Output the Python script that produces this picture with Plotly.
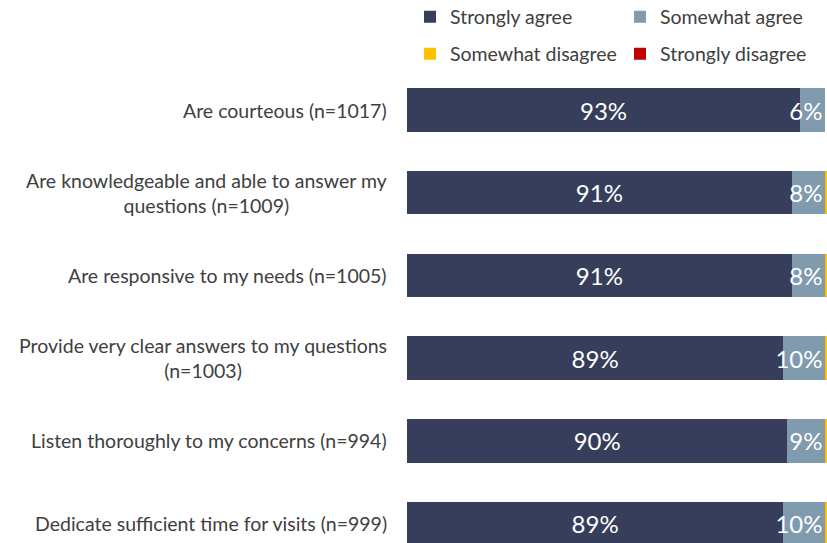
import plotly.graph_objects as go

categories = [
    "Are courteous (n=1017)",
    "Are knowledgeable and able to answer my<br>questions (n=1009)",
    "Are responsive to my needs (n=1005)",
    "Provide very clear answers to my questions<br>(n=1003)",
    "Listen thoroughly to my concerns (n=994)",
    "Dedicate sufficient time for visits (n=999)",
]
strongly_agree = [93, 91, 91, 89, 90, 89]
somewhat_agree = [6, 8, 8, 10, 9, 10]
somewhat_disagree = [0, 1, 1, 1, 1, 1]
strongly_disagree = [0, 0, 0, 0, 0, 0]

series_names = ["Strongly agree", "Somewhat agree", "Somewhat disagree", "Strongly disagree"]
series_values = [strongly_agree, somewhat_agree, somewhat_disagree, strongly_disagree]
series_colors = ["#363e5c", "#7f9bad", "#ffc000", "#c00000"]
show_text = [True, True, False, False]
text_anchor = ["middle", "end", "middle", "middle"]
legend_ids = ["legend", "legend", "legend2", "legend2"]

FONT = "Lato"
TEXT_COLOR = "#404040"

fig = go.Figure()
for name, vals, color, st, anchor, lg in zip(series_names, series_values, series_colors,
                                             show_text, text_anchor, legend_ids):
    fig.add_trace(go.Bar(
        y=categories,
        x=vals,
        name=name,
        orientation="h",
        marker=dict(color=color, line=dict(width=0)),
        text=[f"{v}%" for v in vals] if st else None,
        textposition="inside" if st else "none",
        insidetextanchor=anchor,
        textangle=0,
        constraintext="none",
        insidetextfont=dict(family=FONT, size=24, color="white"),
        legend=lg,
        hoverinfo="skip",
    ))

# Category labels: right-aligned block, lines centred within it
for cat in categories:
    fig.add_annotation(
        x=0, xref="paper", y=cat, yref="y",
        text=cat, showarrow=False,
        xanchor="right", yanchor="middle", align="center",
        xshift=-18,
        font=dict(family=FONT, size=19.5, color=TEXT_COLOR),
    )

legend_common = dict(
    orientation="h",
    xref="container", yref="container",
    xanchor="left", yanchor="middle",
    entrywidth=165, entrywidthmode="pixels",
    font=dict(family=FONT, size=19.5, color=TEXT_COLOR),
    bgcolor="rgba(0,0,0,0)",
    traceorder="normal",
)

fig.update_layout(
    width=827, height=543,
    margin=dict(l=407, r=0, t=70, b=0, pad=0, autoexpand=False),
    barmode="stack",
    bargap=0.474,
    plot_bgcolor="white",
    paper_bgcolor="white",
    font=dict(family=FONT, color=TEXT_COLOR),
    showlegend=True,
    legend=dict(x=410 / 827, y=1 - 17 / 543, **legend_common),
    legend2=dict(x=410 / 827, y=1 - 54 / 543, **legend_common),
    xaxis=dict(range=[0, 99.36], visible=False, fixedrange=True),
    yaxis=dict(
        categoryorder="array", categoryarray=categories,
        range=[5.236, -0.484],
        showticklabels=False, showgrid=False, zeroline=False, showline=False,
        ticks="",
    ),
)

fig.write_html("out.html")
